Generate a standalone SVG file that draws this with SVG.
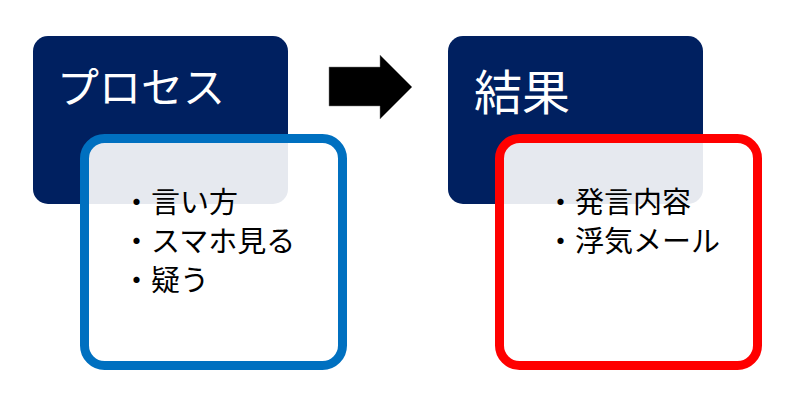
<svg xmlns="http://www.w3.org/2000/svg" width="800" height="420" viewBox="0 0 800 420">
<style>
.head{fill:#002060}
.card{fill:#ffffff;fill-opacity:0.9;stroke-width:9}
.title{font-family:"Noto Sans CJK JP","Noto Sans",sans-serif;fill:#ffffff}
.body{font-family:"Noto Sans CJK JP","Noto Sans",sans-serif;font-size:29px;fill:#000000}
</style>
<rect width="800" height="420" fill="#ffffff"/>
<g id="process-head">
<rect class="head" x="33" y="36" width="255" height="168" rx="15"/>
<text class="title" x="57" y="103" font-size="42">プロセス</text>
</g>
<g id="process-card">
<rect class="card" x="84.5" y="138.5" width="258" height="227" rx="20" stroke="#0070c0"/>
<text class="body" x="122" y="213">・言い方</text>
<text class="body" x="122" y="252">・スマホ見る</text>
<text class="body" x="122" y="291">・疑う</text>
</g>
<g id="result-head">
<rect class="head" x="448" y="36" width="255" height="168" rx="15"/>
<text class="title" x="474" y="110" font-size="48">結果</text>
</g>
<g id="result-card">
<rect class="card" x="499.5" y="138.5" width="258" height="227" rx="20" stroke="#ff0000"/>
<text class="body" x="546" y="213">・発言内容</text>
<text class="body" x="546" y="252">・浮気メール</text>
</g>
<g id="connectors">
<polygon points="329,67 380,67 380,55 412,87 380,119 380,106 329,106" fill="#000000" stroke="#7f7f7f" stroke-width="0.5"/>
</g>
</svg>
